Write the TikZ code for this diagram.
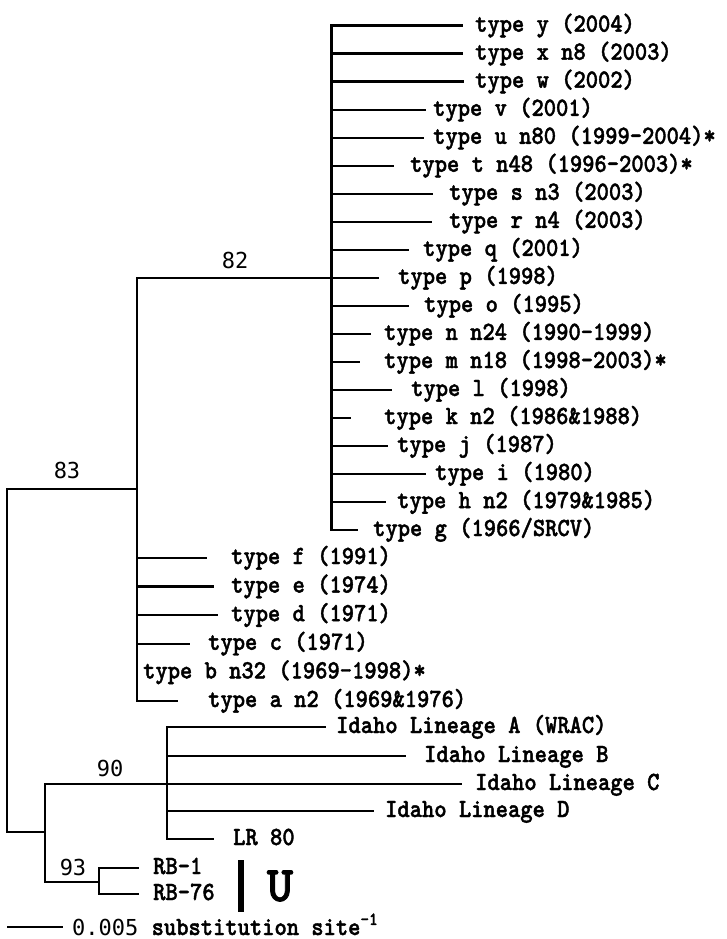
\documentclass[tikz,border=0pt]{standalone}
\usepackage{fontspec}
\usepackage{graphicx}
\newfontfamily\labfam{lmmonolt10-bold}[Extension=.otf, FakeBold=1.6]
\newfontfamily\numfam{DejaVu Sans Mono}
\newcommand{\labfont}{\labfam\fontsize{23.4}{26}\selectfont}
\newcommand{\numfont}{\numfam\fontsize{22}{26}\selectfont}
\newcommand{\bigU}{\labfam\fontsize{50}{54}\selectfont}
\newcommand{\tall}[1]{\scalebox{1}[1.12]{#1}}
\tikzset{
  br/.style={line width=2.5pt, line cap=rect},
  lab/.style={anchor=base west, inner sep=0pt, font=\labfont},
  boot/.style={anchor=center, inner sep=0pt, font=\numfont},
}
% name, vertical x, y, end x, label x, text
\newcommand{\leaf}[6]{%
  \coordinate (s#1) at (#2,#3);
  \coordinate (e#1) at (#4,#3);
  \node[lab] (l#1) at (#5,#3+6) {\tall{#6}};
  \draw[br] (s#1) -- (e#1);}
\begin{document}
\begin{tikzpicture}[x=1pt,y=-1pt]
\useasboundingbox (0,0) rectangle (726,939);
\fill[white] (0,0) rectangle (726,939);
% inner clade (g..y)
\coordinate (ctop) at (331.5,25.7);
\coordinate (cbot) at (331.5,530);
\draw[br] (ctop) -- (cbot);
\leaf{y}{331.5}{25.7}{462}{475}{type y (2004)}
\leaf{x}{331.5}{53.7}{462}{475}{type x n8 (2003)}
\leaf{w}{331.5}{81.7}{463}{475}{type w (2002)}
\leaf{v}{331.5}{109.8}{425}{433}{type v (2001)}
\leaf{u}{331.5}{137.8}{423}{433}{type u n80 (1999-2004)*}
\leaf{t}{331.5}{165.8}{393}{410}{type t n48 (1996-2003)*}
\leaf{s}{331.5}{193.8}{432}{449}{type s n3 (2003)}
\leaf{r}{331.5}{221.8}{431}{449}{type r n4 (2003)}
\leaf{q}{331.5}{249.9}{408}{423}{type q (2001)}
\leaf{p}{331.5}{277.9}{378}{398}{type p (1998)}
\leaf{o}{331.5}{305.9}{408}{424}{type o (1995)}
\leaf{n}{331.5}{333.9}{370}{384}{type n n24 (1990-1999)}
\leaf{m}{331.5}{362}{359}{384}{type m n18 (1998-2003)*}
\leaf{l}{331.5}{390}{391}{411}{type l (1998)}
\leaf{k}{331.5}{418}{350}{384}{type k n2 (1986\&1988)}
\leaf{j}{331.5}{446}{387}{397}{type j (1987)}
\leaf{i}{331.5}{474}{425}{435}{type i (1980)}
\leaf{h}{331.5}{502.1}{385}{397}{type h n2 (1979\&1985)}
\leaf{g}{331.5}{530}{357}{373}{type g (1966/SRCV)}
% node 82
\coordinate (n82) at (137,277.9);
\coordinate (c82) at (331.5,277.9);
\draw[br] (n82) -- (c82);
\node[boot] (b82) at (235,260) {82};
% left clade (a..f)
\coordinate (lbot) at (137,701);
\draw[br] (n82) -- (lbot);
\leaf{f}{137}{558}{206}{231}{type f (1991)}
\leaf{e}{137}{586.6}{213}{231}{type e (1974)}
\leaf{d}{137}{615.2}{217}{231}{type d (1971)}
\leaf{c}{137}{643.8}{189}{208}{type c (1971)}
\node[lab] (lb) at (143,672.4+6) {\tall{type b n32 (1969-1998)*}};
\leaf{a}{137}{701}{177}{208}{type a n2 (1969\&1976)}
% node 83 and root
\coordinate (r83) at (7,489);
\coordinate (n83) at (137,489);
\draw[br] (r83) -- (n83);
\node[boot] (b83) at (67,470) {83};
\coordinate (rbot) at (7,832);
\draw[br] (r83) -- (rbot);
\coordinate (n90) at (45,832);
\draw[br] (rbot) -- (n90);
% node 90
\coordinate (n90t) at (45,784);
\coordinate (n90b) at (45,882);
\draw[br] (n90t) -- (n90b);
\node[boot] (b90) at (110,768) {90};
\coordinate (idm) at (167,784);
\draw[br] (n90t) -- (idm);
\coordinate (idt) at (167,727);
\coordinate (idb) at (167,839);
\draw[br] (idt) -- (idb);
\leaf{IA}{167}{727}{325}{336}{Idaho Lineage A (WRAC)}
\leaf{IB}{167}{756}{405}{424}{Idaho Lineage B}
\leaf{IC}{167}{784}{461}{475}{Idaho Lineage C}
\leaf{ID}{167}{811}{373}{385}{Idaho Lineage D}
\leaf{LR}{167}{839}{213}{233}{LR 80}
% node 93
\coordinate (n93) at (99,882);
\draw[br] (n90b) -- (n93);
\node[boot] (b93) at (73,867) {93};
\coordinate (n93t) at (99,868);
\coordinate (n93b) at (99,894);
\draw[br] (n93t) -- (n93b);
\leaf{R1}{99}{868}{138}{153}{RB-1}
\leaf{R76}{99}{894}{138}{153}{RB-76}
% U bar
\coordinate (ubt) at (241,860);
\coordinate (ubb) at (241,912);
\draw[line width=6pt] (ubt) -- (ubb);
\node[anchor=center, inner sep=0pt, font=\bigU] (U) at (280,886) {U};
% scale bar
\coordinate (sb1) at (7,927);
\coordinate (sb2) at (63,927);
\draw[br, line cap=butt] (sb1) -- (sb2);
\node[anchor=base west, inner sep=0pt] (sbl) at (72,935) {\numfont 0.005 \labfont\tall{substitution site\textsuperscript{-1}}};
\end{tikzpicture}
\end{document}
